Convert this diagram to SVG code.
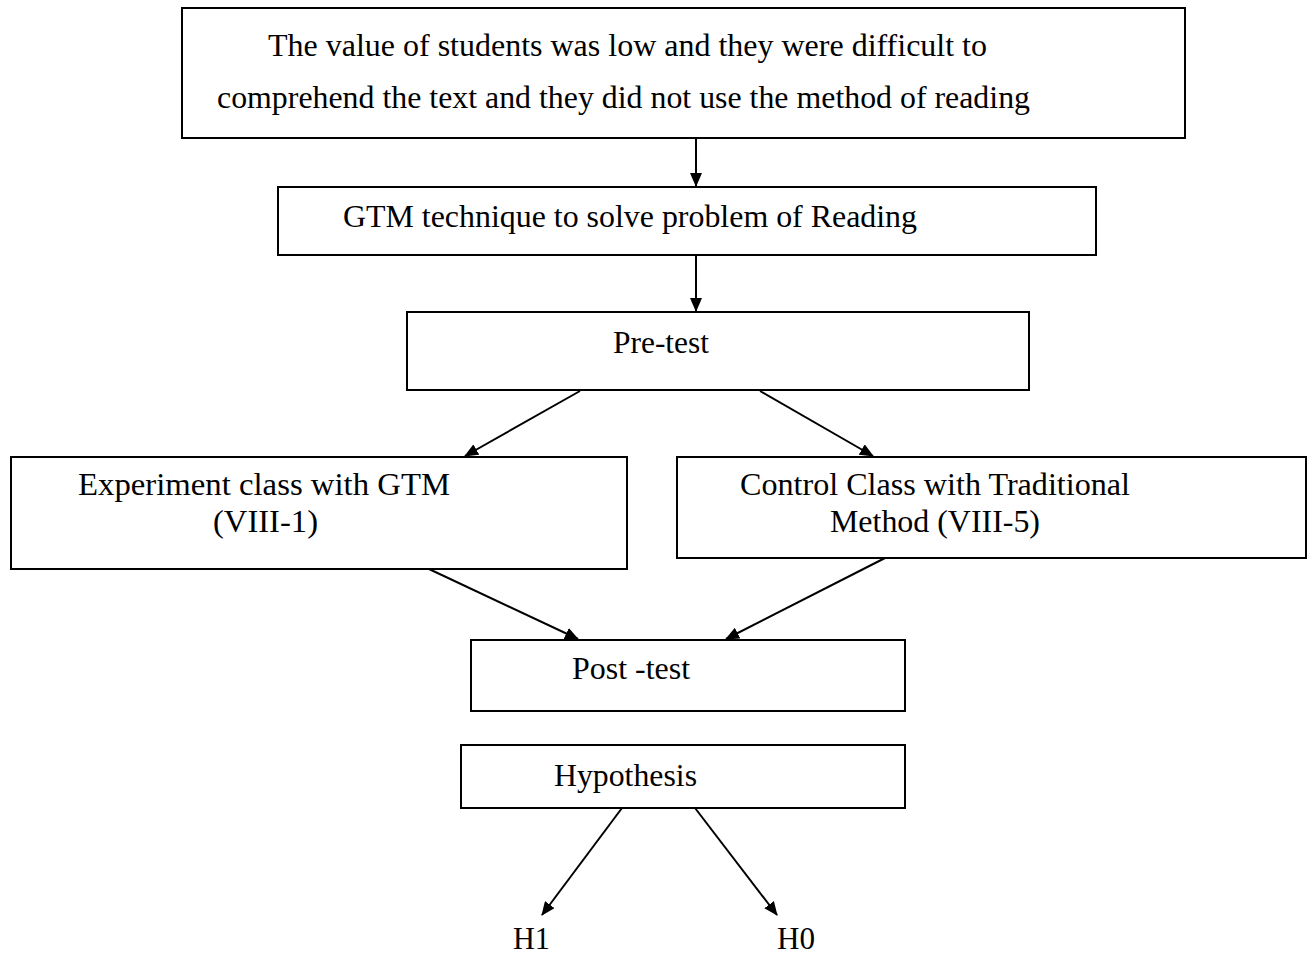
<svg xmlns="http://www.w3.org/2000/svg" width="1307" height="954" viewBox="0 0 1307 954">
<defs>
<marker id="ah" markerWidth="14" markerHeight="12" refX="13" refY="6" orient="auto" markerUnits="userSpaceOnUse">
<path d="M0,0 L14,6 L0,12 Z" fill="#000"/>
</marker>
<style>
.box{fill:#fff;stroke:#000;stroke-width:2}
.t{font-family:"Liberation Serif","Times New Roman",serif;font-size:32px;fill:#000}
.c{stroke:#000;stroke-width:2;fill:none;marker-end:url(#ah)}
</style>
</defs>
<rect width="1307" height="954" fill="#fff"/>
<g id="n-problem">
<rect class="box" x="182" y="8" width="1003" height="130"/>
<text class="t" x="268" y="56" textLength="719" lengthAdjust="spacingAndGlyphs">The value of students was low and they were difficult to</text>
<text class="t" x="217" y="108" textLength="813" lengthAdjust="spacingAndGlyphs">comprehend the text and they did not use the method of reading</text>
</g>
<g id="n-gtm">
<rect class="box" x="278" y="187" width="818" height="68"/>
<text class="t" x="343" y="227" textLength="574" lengthAdjust="spacingAndGlyphs">GTM technique to solve problem of Reading</text>
</g>
<g id="n-pretest">
<rect class="box" x="407" y="312" width="622" height="78"/>
<text class="t" x="613" y="353" textLength="96" lengthAdjust="spacingAndGlyphs">Pre-test</text>
</g>
<g id="n-experiment">
<rect class="box" x="11" y="457" width="616" height="112"/>
<text class="t" x="78" y="495" textLength="372" lengthAdjust="spacingAndGlyphs">Experiment class with GTM</text>
<text class="t" x="213" y="532" textLength="105" lengthAdjust="spacingAndGlyphs">(VIII-1)</text>
</g>
<g id="n-control">
<rect class="box" x="677" y="457" width="629" height="101"/>
<text class="t" x="740" y="495" textLength="390" lengthAdjust="spacingAndGlyphs">Control Class with Traditional</text>
<text class="t" x="830" y="532" textLength="210" lengthAdjust="spacingAndGlyphs">Method (VIII-5)</text>
</g>
<g id="n-posttest">
<rect class="box" x="471" y="640" width="434" height="71"/>
<text class="t" x="572" y="679" textLength="118" lengthAdjust="spacingAndGlyphs">Post -test</text>
</g>
<g id="n-hypothesis">
<rect class="box" x="461" y="745" width="444" height="63"/>
<text class="t" x="554" y="786" textLength="143" lengthAdjust="spacingAndGlyphs">Hypothesis</text>
</g>
<g id="n-h1">
<text class="t" x="513" y="949" textLength="37" lengthAdjust="spacingAndGlyphs">H1</text>
</g>
<g id="n-h0">
<text class="t" x="777" y="949" textLength="38" lengthAdjust="spacingAndGlyphs">H0</text>
</g>
<g id="connectors">
<line class="c" x1="696" y1="138" x2="696" y2="186"/>
<line class="c" x1="696" y1="255" x2="696" y2="311"/>
<line class="c" x1="580" y1="391" x2="465" y2="456"/>
<line class="c" x1="760" y1="391" x2="873" y2="456"/>
<line class="c" x1="429" y1="569" x2="578" y2="639"/>
<line class="c" x1="885" y1="558" x2="726" y2="639"/>
<line class="c" x1="622" y1="808" x2="542" y2="915"/>
<line class="c" x1="695" y1="808" x2="777" y2="915"/>
</g>
</svg>
